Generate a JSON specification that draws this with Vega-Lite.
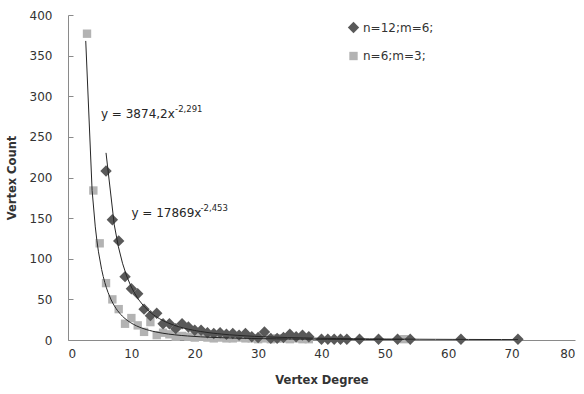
{
  "$schema": "https://vega.github.io/schema/vega-lite/v6.json",
  "width": 507,
  "height": 325,
  "autosize": {"type": "none"},
  "padding": {"left": 68, "top": 15, "right": 9, "bottom": 54},
  "background": "white",
  "config": {
    "font": "DejaVu Sans",
    "view": {"stroke": null},
    "axis": {
      "grid": false,
      "labelFont": "DejaVu Sans",
      "labelFontSize": 12,
      "labelColor": "#333333",
      "domainColor": "#8a8a8a",
      "tickColor": "#8a8a8a",
      "titleFont": "DejaVu Sans",
      "titleFontSize": 11.5,
      "titleFontWeight": "bold",
      "titleColor": "#333333"
    },
    "legend": {"labelFont": "DejaVu Sans", "labelFontSize": 12, "labelColor": "#333333"}
  },
  "datasets": {
    "pts": [
      {"series": "n=6;m=3;", "degree": 3, "count": 377},
      {"series": "n=6;m=3;", "degree": 4, "count": 184},
      {"series": "n=6;m=3;", "degree": 5, "count": 119},
      {"series": "n=6;m=3;", "degree": 6, "count": 70},
      {"series": "n=6;m=3;", "degree": 7, "count": 50},
      {"series": "n=6;m=3;", "degree": 8, "count": 38},
      {"series": "n=6;m=3;", "degree": 9, "count": 20},
      {"series": "n=6;m=3;", "degree": 10, "count": 27},
      {"series": "n=6;m=3;", "degree": 11, "count": 18},
      {"series": "n=6;m=3;", "degree": 12, "count": 10},
      {"series": "n=6;m=3;", "degree": 13, "count": 22},
      {"series": "n=6;m=3;", "degree": 14, "count": 6},
      {"series": "n=6;m=3;", "degree": 15, "count": 9},
      {"series": "n=6;m=3;", "degree": 16, "count": 7},
      {"series": "n=6;m=3;", "degree": 17, "count": 4},
      {"series": "n=6;m=3;", "degree": 18, "count": 5},
      {"series": "n=6;m=3;", "degree": 19, "count": 4},
      {"series": "n=6;m=3;", "degree": 20, "count": 3},
      {"series": "n=6;m=3;", "degree": 21, "count": 4},
      {"series": "n=6;m=3;", "degree": 22, "count": 3},
      {"series": "n=6;m=3;", "degree": 23, "count": 2},
      {"series": "n=6;m=3;", "degree": 24, "count": 3},
      {"series": "n=6;m=3;", "degree": 25, "count": 2},
      {"series": "n=6;m=3;", "degree": 26, "count": 2},
      {"series": "n=6;m=3;", "degree": 27, "count": 3},
      {"series": "n=6;m=3;", "degree": 28, "count": 2},
      {"series": "n=6;m=3;", "degree": 29, "count": 2},
      {"series": "n=6;m=3;", "degree": 30, "count": 1},
      {"series": "n=6;m=3;", "degree": 31, "count": 2},
      {"series": "n=6;m=3;", "degree": 32, "count": 1},
      {"series": "n=6;m=3;", "degree": 33, "count": 2},
      {"series": "n=6;m=3;", "degree": 34, "count": 2},
      {"series": "n=6;m=3;", "degree": 35, "count": 1},
      {"series": "n=6;m=3;", "degree": 36, "count": 2},
      {"series": "n=6;m=3;", "degree": 37, "count": 1},
      {"series": "n=6;m=3;", "degree": 38, "count": 1},
      {"series": "n=6;m=3;", "degree": 53, "count": 1},
      {"series": "n=12;m=6;", "degree": 6, "count": 208},
      {"series": "n=12;m=6;", "degree": 7, "count": 148},
      {"series": "n=12;m=6;", "degree": 8, "count": 122},
      {"series": "n=12;m=6;", "degree": 9, "count": 78},
      {"series": "n=12;m=6;", "degree": 10, "count": 63},
      {"series": "n=12;m=6;", "degree": 11, "count": 57},
      {"series": "n=12;m=6;", "degree": 12, "count": 38},
      {"series": "n=12;m=6;", "degree": 13, "count": 30},
      {"series": "n=12;m=6;", "degree": 14, "count": 33},
      {"series": "n=12;m=6;", "degree": 15, "count": 20},
      {"series": "n=12;m=6;", "degree": 16, "count": 20},
      {"series": "n=12;m=6;", "degree": 17, "count": 14},
      {"series": "n=12;m=6;", "degree": 18, "count": 20},
      {"series": "n=12;m=6;", "degree": 19, "count": 16},
      {"series": "n=12;m=6;", "degree": 20, "count": 12},
      {"series": "n=12;m=6;", "degree": 21, "count": 12},
      {"series": "n=12;m=6;", "degree": 22, "count": 9},
      {"series": "n=12;m=6;", "degree": 23, "count": 8},
      {"series": "n=12;m=6;", "degree": 24, "count": 9},
      {"series": "n=12;m=6;", "degree": 25, "count": 7},
      {"series": "n=12;m=6;", "degree": 26, "count": 8},
      {"series": "n=12;m=6;", "degree": 27, "count": 6},
      {"series": "n=12;m=6;", "degree": 28, "count": 8},
      {"series": "n=12;m=6;", "degree": 29, "count": 4},
      {"series": "n=12;m=6;", "degree": 30, "count": 3},
      {"series": "n=12;m=6;", "degree": 31, "count": 10},
      {"series": "n=12;m=6;", "degree": 32, "count": 2},
      {"series": "n=12;m=6;", "degree": 33, "count": 2},
      {"series": "n=12;m=6;", "degree": 34, "count": 3},
      {"series": "n=12;m=6;", "degree": 35, "count": 7},
      {"series": "n=12;m=6;", "degree": 36, "count": 4},
      {"series": "n=12;m=6;", "degree": 37, "count": 6},
      {"series": "n=12;m=6;", "degree": 38, "count": 4},
      {"series": "n=12;m=6;", "degree": 40, "count": 1},
      {"series": "n=12;m=6;", "degree": 41, "count": 1},
      {"series": "n=12;m=6;", "degree": 42, "count": 1},
      {"series": "n=12;m=6;", "degree": 43, "count": 1},
      {"series": "n=12;m=6;", "degree": 44, "count": 1},
      {"series": "n=12;m=6;", "degree": 46, "count": 1},
      {"series": "n=12;m=6;", "degree": 49, "count": 1},
      {"series": "n=12;m=6;", "degree": 52, "count": 1},
      {"series": "n=12;m=6;", "degree": 54, "count": 1},
      {"series": "n=12;m=6;", "degree": 62, "count": 1},
      {"series": "n=12;m=6;", "degree": 71, "count": 1}
    ],
    "eq": [
      {"degree": 5.2, "count": 278, "text": "y = 3874,2x"},
      {"degree": 10.0, "count": 156, "text": "y = 17869x"}
    ],
    "eqexp": [
      {"degree": 16.9, "count": 284, "text": "-2,291"},
      {"degree": 20.9, "count": 162, "text": "-2,453"}
    ]
  },
  "layer": [
    {
      "data": {"name": "pts"},
      "mark": {"type": "point", "filled": true, "opacity": 1},
      "encoding": {
        "x": {
          "field": "degree", "type": "quantitative",
          "scale": {"domain": [0, 80], "nice": false},
          "axis": {"values": [0, 10, 20, 30, 40, 50, 60, 70, 80], "ticks": false, "labelPadding": 8, "title": "Vertex Degree", "titlePadding": 15}
        },
        "y": {
          "field": "count", "type": "quantitative",
          "scale": {"domain": [0, 400], "nice": false},
          "axis": {"values": [0, 50, 100, 150, 200, 250, 300, 350, 400], "tickSize": -5, "labelPadding": 21, "title": "Vertex Count", "titlePadding": 12}
        },
        "shape": {
          "field": "series", "type": "nominal",
          "scale": {"domain": ["n=12;m=6;", "n=6;m=3;"], "range": ["diamond", "square"]},
          "legend": {"title": null, "orient": "none", "legendX": 279, "legendY": 6, "rowPadding": 16, "labelOffset": 3}
        },
        "color": {
          "field": "series", "type": "nominal",
          "scale": {"domain": ["n=12;m=6;", "n=6;m=3;"], "range": ["#595959", "#b3b3b3"]},
          "legend": {"title": null, "orient": "none", "legendX": 279, "legendY": 6, "rowPadding": 16, "labelOffset": 3}
        },
        "size": {
          "field": "series", "type": "nominal",
          "scale": {"domain": ["n=12;m=6;", "n=6;m=3;"], "range": [130, 70]},
          "legend": {"title": null, "orient": "none", "legendX": 279, "legendY": 6, "rowPadding": 16, "labelOffset": 3}
        }
      }
    },
    {
      "data": {"name": "pts"},
      "transform": [
        {"filter": "datum.series === 'n=6;m=3;'"},
        {"regression": "count", "on": "degree", "method": "pow", "extent": [2.8, 53]}
      ],
      "mark": {"type": "line", "color": "#262626", "strokeWidth": 1, "clip": true},
      "encoding": {
        "x": {"field": "degree", "type": "quantitative"},
        "y": {"field": "count", "type": "quantitative"}
      }
    },
    {
      "data": {"name": "pts"},
      "transform": [
        {"filter": "datum.series === 'n=12;m=6;'"},
        {"regression": "count", "on": "degree", "method": "pow"}
      ],
      "mark": {"type": "line", "color": "#262626", "strokeWidth": 1, "clip": true},
      "encoding": {
        "x": {"field": "degree", "type": "quantitative"},
        "y": {"field": "count", "type": "quantitative"}
      }
    },
    {
      "data": {"name": "eq"},
      "mark": {"type": "text", "align": "left", "baseline": "middle", "fontSize": 12, "font": "DejaVu Sans", "color": "#262626"},
      "encoding": {
        "x": {"field": "degree", "type": "quantitative"},
        "y": {"field": "count", "type": "quantitative"},
        "text": {"field": "text"}
      }
    },
    {
      "data": {"name": "eqexp"},
      "mark": {"type": "text", "align": "left", "baseline": "middle", "fontSize": 8.5, "font": "DejaVu Sans", "color": "#262626"},
      "encoding": {
        "x": {"field": "degree", "type": "quantitative"},
        "y": {"field": "count", "type": "quantitative"},
        "text": {"field": "text"}
      }
    }
  ]
}
